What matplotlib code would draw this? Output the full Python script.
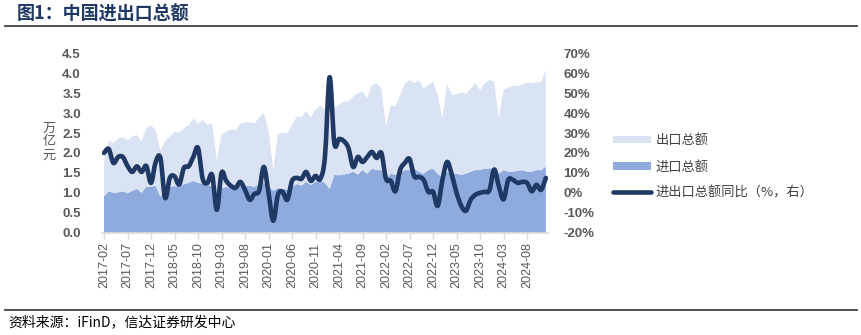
import matplotlib
matplotlib.use("Agg")
import matplotlib.pyplot as plt
import numpy as np
from matplotlib.lines import Line2D
from matplotlib.patches import Patch, PathPatch
from matplotlib.path import Path

plt.rcParams['font.family'] = ['Liberation Sans', 'Noto Sans CJK SC', 'DejaVu Sans']

# ---------------- data ----------------
# monthly, 2017-02 .. 2024-12 (95 months); trillion yuan
imports = [0.92, 1.04, 1.00, 1.01, 1.04, 0.99, 1.05, 1.10, 1.00, 1.15,
           1.16, 1.17, 0.90, 1.12, 1.15, 1.17, 1.15, 1.22, 1.25, 1.30,
           1.25, 1.23, 1.22, 1.15, 0.95, 1.12, 1.15, 1.12, 1.10, 1.18,
           1.17, 1.18, 1.15, 1.22, 1.25, 1.17, 1.05, 1.12, 1.10, 1.08,
           1.15, 1.22, 1.18, 1.28, 1.20, 1.27, 1.32, 1.25, 1.10, 1.45,
           1.44, 1.46, 1.48, 1.53, 1.46, 1.57, 1.48, 1.61, 1.57, 1.57,
           1.36, 1.48, 1.45, 1.53, 1.57, 1.57, 1.61, 1.53, 1.48, 1.57,
           1.61, 1.48, 1.38, 1.53, 1.48, 1.48, 1.45, 1.48, 1.53, 1.57,
           1.57, 1.61, 1.61, 1.62, 1.48, 1.57, 1.53, 1.53, 1.55, 1.57,
           1.53, 1.53, 1.57, 1.57, 1.66]
exports = [0.86, 1.27, 1.25, 1.35, 1.36, 1.33, 1.36, 1.35, 1.29, 1.47,
           1.54, 1.39, 1.15, 1.18, 1.25, 1.36, 1.36, 1.40, 1.45, 1.57,
           1.49, 1.59, 1.48, 1.59, 0.87, 1.35, 1.38, 1.47, 1.47, 1.56,
           1.59, 1.60, 1.59, 1.66, 1.76, 1.40, 0.52, 1.35, 1.41, 1.41,
           1.55, 1.69, 1.71, 1.78, 1.69, 1.82, 1.88, 1.84, 1.75, 1.68,
           1.76, 1.83, 1.81, 1.88, 2.04, 1.97, 1.89, 2.09, 2.18, 2.05,
           1.30, 1.72, 1.71, 1.92, 2.18, 2.26, 2.14, 2.30, 2.14, 2.13,
           2.18, 1.97, 1.49, 2.20, 1.97, 1.99, 2.07, 1.99, 2.09, 2.18,
           2.01, 2.14, 2.22, 2.17, 1.39, 2.01, 2.11, 2.15, 2.13, 2.15,
           2.24, 2.22, 2.20, 2.22, 2.42]
# total trade YoY, %
yoy = [20, 22, 15, 18, 18, 13.5, 10.5, 13.3, 10.5, 13.5,
       5, 15.5, 17.5, -2.5, 7.5, 8.3, 4.2, 12.5, 13.3, 18,
       22.5, 7, 5, 9, -8.5, 10, 6, 3.5, 2.5, 5.5,
       1.5, -3.5, -0.5, 1, 13, 0, -14, -1, 0.5, -3.5,
       6, 7.5, 7, 10.5, 6, 8.5, 7, 18, 58, 25,
       27, 26, 22.5, 13, 18, 15.5, 18, 20.5, 17.5, 20,
       7, 6, 0.8, 11.5, 15, 17, 8.3, 8, 6.5, 0.5,
       0.5, -6.5, 6.5, 15.5, 9, 0, -6.5, -9, -3.5, -1,
       0, 0.5, 1.3, 11.7, 3.3, -3.3, 6.5, 6.5, 5, 5.5,
       5, 0.8, 4, 1.5, 7.5]
tick_labels = ['2017-02', '2017-07', '2017-12', '2018-05', '2018-10', '2019-03',
               '2019-08', '2020-01', '2020-06', '2020-11', '2021-04', '2021-09',
               '2022-02', '2022-07', '2022-12', '2023-05', '2023-10', '2024-03',
               '2024-08']
series_names = ['出口总额', '进口总额', '进出口总额同比（%，右）']

# ---------------- style ----------------
C_EXP = '#DAE3F3'
C_IMP = '#8FAADC'
C_LINE = '#1F3864'
C_TXT = '#595959'
LW = 3.3

W, H = 862, 335
fig = plt.figure(figsize=(W / 100, H / 100), dpi=100)

x = np.arange(len(imports))
ax = fig.add_axes([101.65 / W, 1 - 232.7 / H, (548.2 - 101.65) / W, (232.7 - 53.3) / H])
ax.stackplot(x, imports, exports, colors=[C_IMP, C_EXP], linewidth=0)
ax.set_xlim(-0.5, len(imports) - 0.5)
ax.set_ylim(0, 4.5)
ax.set_yticks(np.arange(0, 4.51, 0.5))
ax.set_yticklabels([f'{v:.1f}' for v in np.arange(0, 4.51, 0.5)])
tick_pos = np.arange(0, len(imports), 5)[:len(tick_labels)]
ax.set_xticks(tick_pos)
ax.set_xticklabels(tick_labels, rotation=90)
for s in ['top', 'right', 'left']:
    ax.spines[s].set_visible(False)
ax.spines['bottom'].set_color('#D9D9D9')
ax.spines['bottom'].set_linewidth(1.2)
ax.tick_params(axis='x', colors='#D9D9D9', length=4, width=1, labelcolor=C_TXT,
               labelsize=9, pad=3)
ax.tick_params(axis='y', length=0, labelcolor=C_TXT, labelsize=9.5, pad=15)
for t in ax.get_yticklabels():
    t.set_fontweight('bold')

ax2 = ax.twinx()
# smoothed line through the data points (Catmull-Rom rendered as cubic Bezier)
px = np.asarray(x, dtype=float)
py = np.asarray(yoy, dtype=float)
pts = np.column_stack([px, py])
ext = np.vstack([pts[0], pts, pts[-1]])
verts = [tuple(pts[0])]
codes = [Path.MOVETO]
for k in range(len(pts) - 1):
    p0, p1, p2, p3 = ext[k], ext[k + 1], ext[k + 2], ext[k + 3]
    c1 = p1 + (p2 - p0) / 6.0
    c2 = p2 - (p3 - p1) / 6.0
    verts += [tuple(c1), tuple(c2), tuple(p2)]
    codes += [Path.CURVE4, Path.CURVE4, Path.CURVE4]
ax2.add_patch(PathPatch(Path(verts, codes), facecolor='none', edgecolor=C_LINE,
                        lw=LW, joinstyle='round', capstyle='round'))
ax2.set_ylim(-20, 70)
ax2.set_yticks(np.arange(-20, 71, 10))
ax2.set_yticklabels([f'{v}%' for v in range(-20, 71, 10)])
for s in ['top', 'right', 'left', 'bottom']:
    ax2.spines[s].set_visible(False)
ax2.tick_params(axis='y', length=0, labelcolor=C_TXT, labelsize=9.5, pad=11)
for t in ax2.get_yticklabels():
    t.set_fontweight('bold')

# y-axis unit label (stacked characters)
fig.text(49 / W, 1 - 142 / H, '万\n亿\n元', ha='center', va='center', fontsize=9.5,
         color=C_TXT, linespacing=1.05, family=['Noto Sans CJK SC', 'DejaVu Sans'])

# legend
handles = [Patch(facecolor=C_EXP, edgecolor='none'),
           Patch(facecolor=C_IMP, edgecolor='none'),
           Line2D([], [], color=C_LINE, lw=LW, solid_capstyle='round')]
leg = fig.legend(handles, series_names, loc='center left',
                 bbox_to_anchor=(613 / W, 1 - 167 / H), frameon=False,
                 handlelength=2.9, handleheight=0.55,
                 handletextpad=0.35, labelspacing=1.0, borderpad=0, borderaxespad=0,
                 prop={'family': ['Noto Sans CJK SC', 'DejaVu Sans'], 'size': 9.5})
for t in leg.get_texts():
    t.set_color('#404040')

# title, rules, source
fig.text(17 / W, 1 - 14.5 / H, '图1：中国进出口总额', ha='left', va='center', fontsize=13,
         fontweight='bold', color='#1F3864', family=['Noto Sans CJK SC', 'DejaVu Sans'])
fig.add_artist(Line2D([5 / W, 857 / W], [1 - 26 / H, 1 - 26 / H], color='#404040', lw=1.3))
fig.add_artist(Line2D([5 / W, 857 / W], [1 - 309.5 / H, 1 - 309.5 / H], color='#404040', lw=1.3))
fig.text(8 / W, 1 - 322 / H, '资料来源：iFinD，信达证券研发中心', ha='left', va='center',
         fontsize=10, style='italic', color='#000000',
         family=['Noto Sans CJK SC', 'DejaVu Sans'])

fig.savefig('out.png', dpi=100)
